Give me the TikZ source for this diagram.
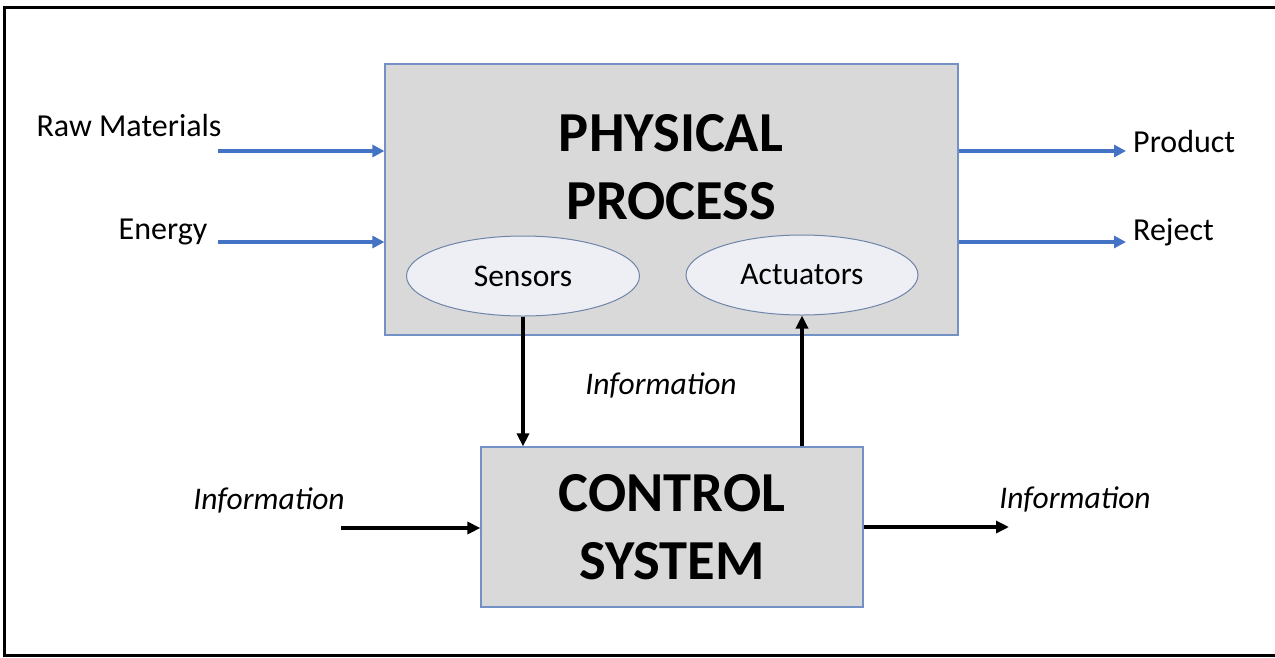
\documentclass[tikz,border=0pt]{standalone}
\usepackage{fontspec}
\setmainfont{Carlito}
\usetikzlibrary{arrows.meta,shapes.geometric}
\definecolor{boxfill}{HTML}{D9D9D9}
\definecolor{boxline}{HTML}{7391C4}
\definecolor{arrowblue}{HTML}{4472C4}
\definecolor{ellfill}{HTML}{EDEFF4}
\definecolor{ellline}{HTML}{6F84A8}
\begin{document}
\begin{tikzpicture}[x=1pt,y=-1pt,
  procbox/.style={draw=boxline, line width=1.2pt, fill=boxfill, inner sep=0pt},
  sensell/.style={ellipse, draw=ellline, line width=1pt, fill=ellfill, inner sep=0pt, font=\fontsize{31.5}{36}\selectfont},
  bigtext/.style={font=\fontsize{56.5}{68}\selectfont\bfseries, align=center, inner sep=0pt},
  lbl/.style={font=\fontsize{32}{36}\selectfont, inner sep=0pt},
  infolbl/.style={font=\fontsize{31.5}{36}\selectfont\itshape, inner sep=0pt},
  bluearrow/.style={draw=arrowblue, line width=3.5pt, -{Triangle[length=12pt,width=12pt]}},
  blackarrow/.style={draw=black, line width=3.5pt, -{Triangle[length=13pt,width=12pt]}}
]
\clip (0,0) rectangle (1275,657);
% frame (right side cropped off)
\draw[line width=3pt] (1290,7.5) -- (4,7.5) -- (4,655.5) -- (1290,655.5);

% physical process
\node[procbox, minimum width=573pt, minimum height=271pt] (phys) at (671.5,199.5) {};
\node[bigtext] (physt) at (671,167) {PHYSICAL\\PROCESS};
\node[sensell, minimum width=233pt, minimum height=80pt] (sens) at (523,276) {Sensors};
\node[sensell, minimum width=232pt, minimum height=80pt] (act) at (802,275) {Actuators};

% control system
\node[procbox, minimum width=382pt, minimum height=160pt, bigtext] (ctrl) at (672,527) {CONTROL\\SYSTEM};

% inputs
\coordinate (rawL) at (218,151);
\coordinate (enL) at (218,242);
\node[lbl] (raw) at (129,126) {Raw Materials};
\node[lbl] (en) at (163,232) {Energy};
\draw[bluearrow] (rawL) -- (rawL -| phys.west);
\draw[bluearrow] (enL) -- (enL -| phys.west);

% outputs
\coordinate (prodR) at (1126,151);
\coordinate (rejR) at (1126,242);
\node[lbl, anchor=west] (prod) at (1133,142) {Product};
\node[lbl, anchor=west] (rej) at (1133,232) {Reject};
\draw[bluearrow] (prodR -| phys.east) -- (prodR);
\draw[bluearrow] (rejR -| phys.east) -- (rejR);

% information between process and control
\draw[blackarrow] (sens.south) -- (sens.south |- ctrl.north);
\draw[blackarrow] (act.south |- ctrl.north) -- (act.south);
\node[infolbl] (infomid) at (661,385) {Information};

% information in/out of control
\coordinate (infoInL) at (341,528);
\coordinate (infoOutR) at (1009,527);
\node[infolbl] (infoin) at (269,500) {Information};
\node[infolbl] (infoout) at (1075,499) {Information};
\draw[blackarrow] (infoInL) -- (infoInL -| ctrl.west);
\draw[blackarrow] (infoOutR -| ctrl.east) -- (infoOutR);
\end{tikzpicture}
\end{document}
